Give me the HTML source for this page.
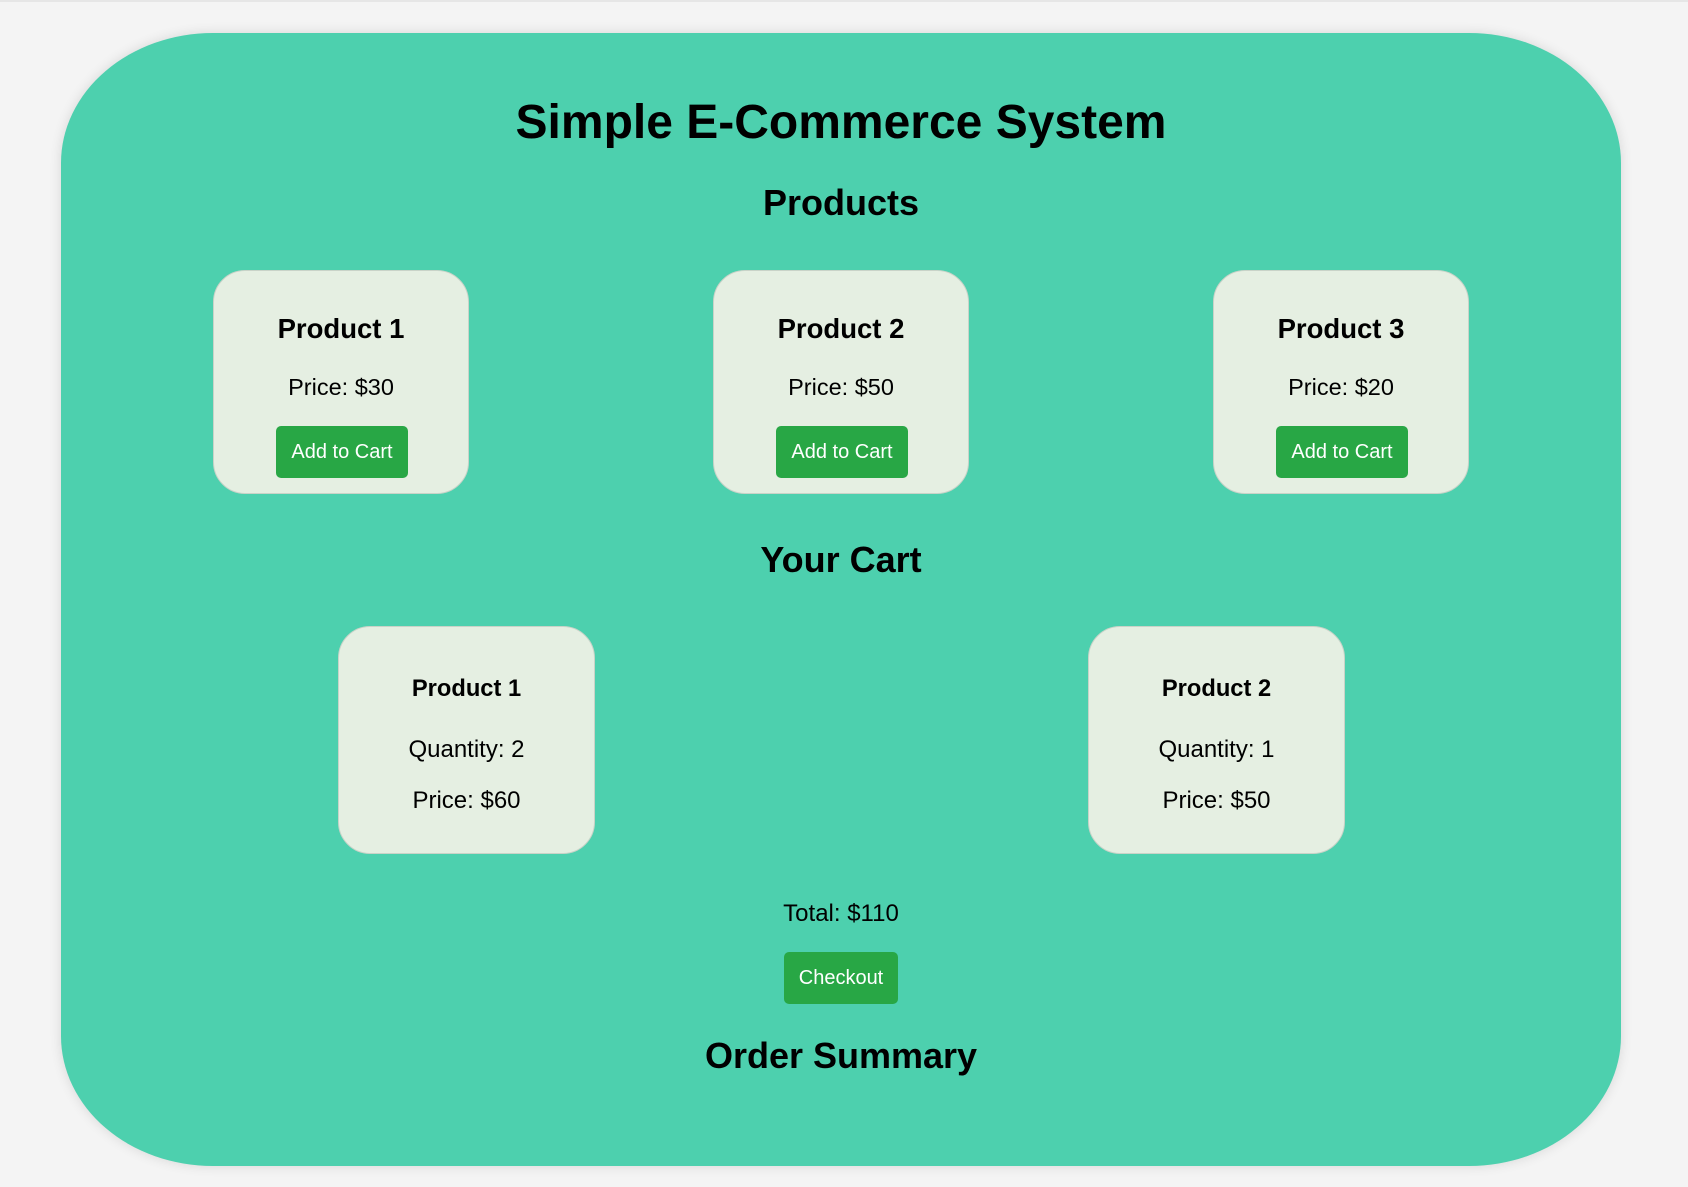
<!DOCTYPE html>
<html><head><meta charset="utf-8"><style>
*{margin:0;padding:0;box-sizing:border-box}
body{width:1688px;height:1187px;background:#f4f4f4;font-family:"Liberation Sans",Arial,sans-serif;position:relative;overflow:hidden}
.line{position:absolute;left:0;top:0;width:1688px;height:2px;background:#e6e6e6}
.c{position:absolute;left:61px;top:33px;width:1560px;height:1133px;background:#4dd0ae;border-radius:152px/130px;box-shadow:0 0 12px rgba(0,0,0,.12)}
.t{position:absolute;left:0;width:1682px;text-align:center;color:#000;line-height:1}
.card{position:absolute;background:#e5efe2;border:1px solid #c9d3c8;border-radius:32px}
.btn{position:absolute;background:#28a745;color:#fff;border-radius:5px;font-size:20px;text-align:center;line-height:52px}
.ct{position:absolute;left:0;width:100%;text-align:center;line-height:1}
</style></head><body>
<div class="line"></div>
<div class="c"></div>
<div class="t" style="top:99px;font-size:48px;font-weight:bold">Simple E-Commerce System</div>
<div class="t" style="top:185px;font-size:36px;font-weight:bold">Products</div>

<div class="card" style="left:213px;top:270px;width:256px;height:224px">
<div class="ct" style="top:44px;font-size:27.5px;font-weight:bold">Product 1</div>
<div class="ct" style="top:105px;font-size:23.5px">Price: $30</div>
<div class="btn" style="left:62px;top:155px;width:132px;height:52px">Add to Cart</div></div>
<div class="card" style="left:713px;top:270px;width:256px;height:224px">
<div class="ct" style="top:44px;font-size:27.5px;font-weight:bold">Product 2</div>
<div class="ct" style="top:105px;font-size:23.5px">Price: $50</div>
<div class="btn" style="left:62px;top:155px;width:132px;height:52px">Add to Cart</div></div>
<div class="card" style="left:1213px;top:270px;width:256px;height:224px">
<div class="ct" style="top:44px;font-size:27.5px;font-weight:bold">Product 3</div>
<div class="ct" style="top:105px;font-size:23.5px">Price: $20</div>
<div class="btn" style="left:62px;top:155px;width:132px;height:52px">Add to Cart</div></div>

<div class="t" style="top:542px;font-size:36px;font-weight:bold">Your Cart</div>

<div class="card" style="left:338px;top:626px;width:257px;height:228px">
<div class="ct" style="top:51px;font-size:23.7px;font-weight:bold">Product 1</div>
<div class="ct" style="top:111px;font-size:24px">Quantity: 2</div>
<div class="ct" style="top:162px;font-size:24px">Price: $60</div></div>
<div class="card" style="left:1088px;top:626px;width:257px;height:228px">
<div class="ct" style="top:51px;font-size:23.7px;font-weight:bold">Product 2</div>
<div class="ct" style="top:111px;font-size:24px">Quantity: 1</div>
<div class="ct" style="top:162px;font-size:24px">Price: $50</div></div>

<div class="t" style="top:902px;font-size:24px">Total: $110</div>
<div class="btn" style="left:784px;top:952px;width:114px;height:52px">Checkout</div>
<div class="t" style="top:1038px;font-size:36px;font-weight:bold">Order Summary</div>
</body></html>
